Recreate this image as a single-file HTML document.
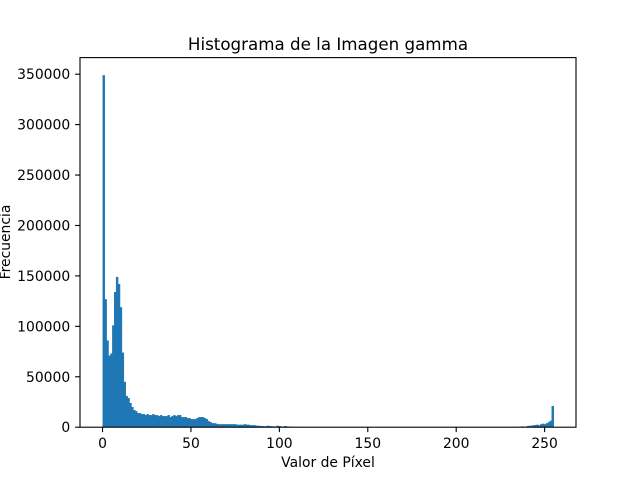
<!DOCTYPE html>
<html><head><meta charset="utf-8"><style>body{margin:0;background:#fff}svg{display:block}text{font-family:"DejaVu Sans","Liberation Sans",sans-serif;fill:#000}</style></head>
<body>
<svg id="chart" width="640" height="480" viewBox="0 0 640 480" xmlns="http://www.w3.org/2000/svg">
<text x="328" y="50" font-size="16.7" text-anchor="middle">Histograma de la Imagen gamma</text>
<g id="bars"></g>
<rect x="80" y="57.6" width="496" height="369.6" fill="none" stroke="#000" stroke-width="1.1"/>
<g id="xticks"></g>
<g id="yticks"></g>
<text x="328" y="467" font-size="13.9" text-anchor="middle">Valor de Píxel</text>
<text transform="translate(10,242) rotate(-90)" font-size="13.9" text-anchor="middle">Frecuencia</text>
</svg>
<script>
const counts = [
349000,127000,86000,71000,73000,101000,134000,149000,142000,119000,
74000,45000,31000,29000,24000,20000,17000,16000,14000,14000,
13000,13000,12000,13000,12000,12000,13000,12000,12000,11000,
12000,11000,11000,11000,12000,10000,11000,12000,11000,12000,
12000,10000,10000,10000,9000,9000,8000,8000,8000,9000,
10000,10000,10000,9000,8000,6000,5000,4000,4000,3500,
3000,3000,3000,3000,3000,3000,3000,3000,3000,3000,
2500,2500,2500,2500,3000,2500,2500,2000,2000,2000,
1500,1500,1200,1200,1000,1000,1500,1200,1000,800,
800,1500,1200,800,600,1200,800,500,400,300,300,
250,200,200,250,200,200,150,200,200,150,
150,200,150,150,120,150,120,120,100,120,
100,100,120,100,100,80,100,100,80,100,
80,80,80,100,80,80,80,60,80,80,
80,60,80,60,60,80,60,60,60,80,
60,60,60,60,80,60,60,60,60,60,
60,60,60,80,60,60,60,60,60,60,
60,60,60,60,60,60,80,60,60,60,
60,60,60,60,60,60,60,60,80,60,
60,60,60,80,60,60,60,60,60,80,
60,60,80,60,80,80,80,100,80,100,
100,100,120,100,
300,200,300,400,800,300,500,1200,1500,1500,
2000,2200,2500,2000,3000,3500,3000,4000,5000,6500,21000
];
const xTicks = [0,50,100,150,200,250];
const yTicks = [0,50000,100000,150000,200000,250000,300000,350000];
const binMin = 0, binMax = 255;

const ns = "http://www.w3.org/2000/svg";
const L=80,R=576,T=57.6,B=427.2;
const xMin=-12.75,xMax=267.75;
const yMax = Math.max(...counts)*1.05;
const xs = v => L+(v-xMin)/(xMax-xMin)*(R-L);
const ys = v => B-v/yMax*(B-T);
const w = (binMax-binMin)/counts.length;
const bars = document.getElementById('bars');
counts.forEach((c,i)=>{
  const r = document.createElementNS(ns,'rect');
  const x0 = xs(binMin+i*w), x1 = xs(binMin+(i+1)*w);
  r.setAttribute('x',x0); r.setAttribute('width',x1-x0+0.5);
  r.setAttribute('y',ys(c)); r.setAttribute('height',B-ys(c));
  r.setAttribute('fill','#1f77b4');
  
  
  bars.appendChild(r);
});
const xg = document.getElementById('xticks');
xTicks.forEach(t=>{
  const x = xs(t);
  const l = document.createElementNS(ns,'line');
  l.setAttribute('x1',x);l.setAttribute('x2',x);l.setAttribute('y1',B);l.setAttribute('y2',B+4.9);
  l.setAttribute('stroke','#000');l.setAttribute('stroke-width','1.1');
  
  
  xg.appendChild(l);
  const s = document.createElementNS(ns,'text');
  s.setAttribute('x',x);s.setAttribute('y',B+21);s.setAttribute('font-size','13.9');s.setAttribute('text-anchor','middle');
  s.textContent=t;
  
  
  xg.appendChild(s);
});
const yg = document.getElementById('yticks');
yTicks.forEach(t=>{
  const y = ys(t);
  const l = document.createElementNS(ns,'line');
  l.setAttribute('x1',L-4.9);l.setAttribute('x2',L);l.setAttribute('y1',y);l.setAttribute('y2',y);
  l.setAttribute('stroke','#000');l.setAttribute('stroke-width','1.1');
  
  
  yg.appendChild(l);
  const s = document.createElementNS(ns,'text');
  s.setAttribute('x',L-9.8);s.setAttribute('y',y+5);s.setAttribute('font-size','13.9');s.setAttribute('text-anchor','end');
  s.textContent=t;
  
  
  yg.appendChild(s);
});
</script>
</body></html>
